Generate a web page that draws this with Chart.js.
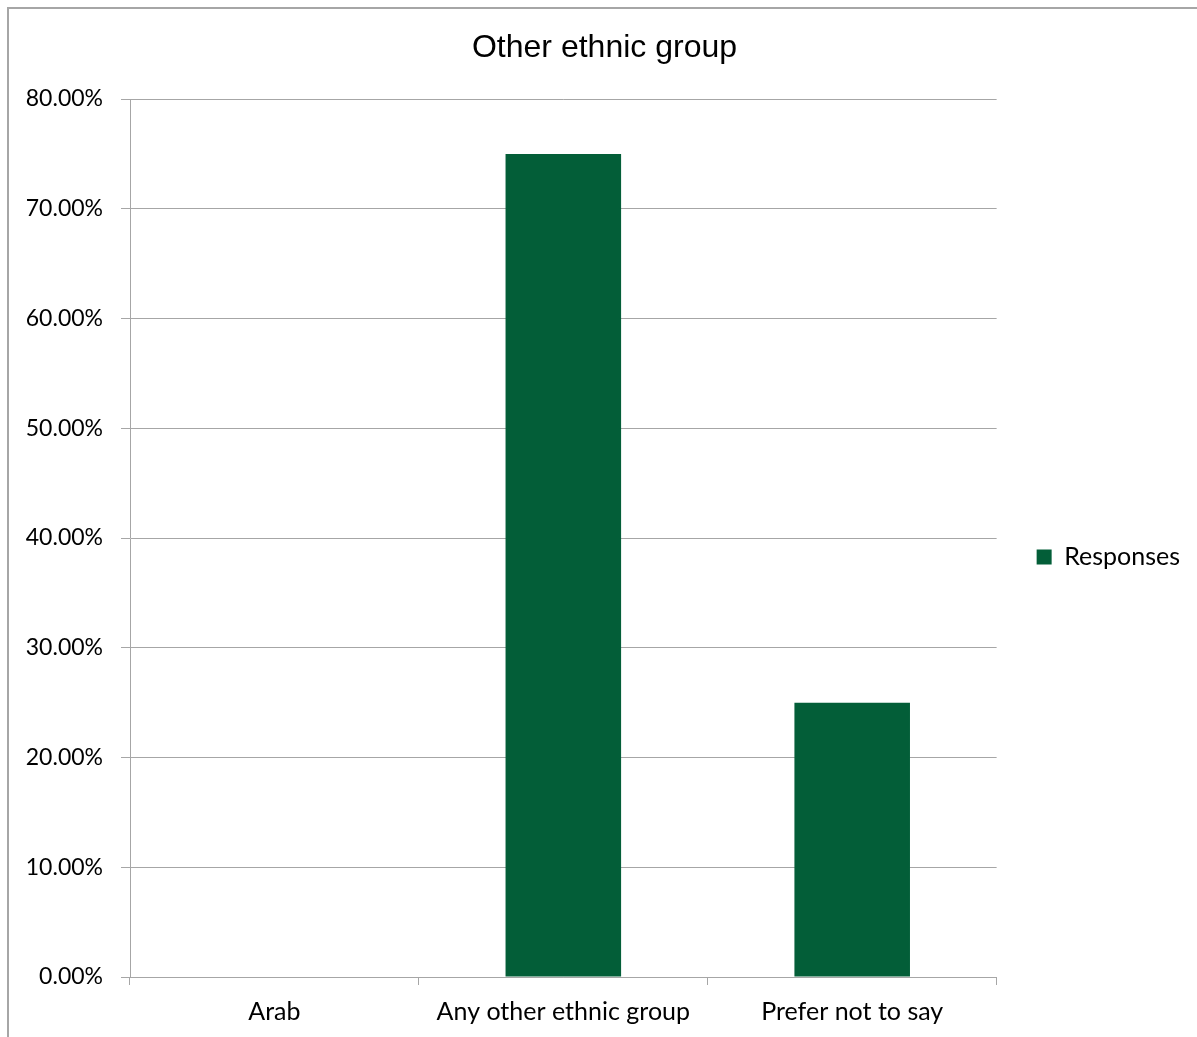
<!DOCTYPE html>
<html>
<head>
<meta charset="utf-8">
<script src="https://cdn.jsdelivr.net/npm/chart.js@4"></script>
<style>
  html, body { margin: 0; padding: 0; background: #fff; overflow: hidden; }
  #wrap { position: relative; width: 1197px; height: 1037px; }
  #frame { position: absolute; left: 7px; top: 7px; width: 1300px; height: 1200px;
           border: 2px solid #A6A6A6; box-sizing: border-box; pointer-events: none; }
  canvas { position: absolute; left: 0; top: 0; }
</style>
</head>
<body>
<div id="wrap">
  <div id="frame"></div>
  <canvas id="c" width="1197" height="1037"></canvas>
</div>
<script>
const chartTitle = 'Other ethnic group';
const categories = ['Arab', 'Any other ethnic group', 'Prefer not to say'];
const seriesName = 'Responses';
const responses = [0, 0.75, 0.25];
const yTicks = [0, 0.1, 0.2, 0.3, 0.4, 0.5, 0.6, 0.7, 0.8];

const barColor = '#035E38';
const gridColor = '#A6A6A6';
const labelFont = { family: 'Lato, "Open Sans", sans-serif', size: 25 };
const yTickFont = { family: 'Lato, "Open Sans", sans-serif', size: 23 };

const blockShift = {
  id: 'blockShift',
  afterLayout(chart) {
    const lg = chart.legend;
    if (lg) {
      const dy = 557 - (lg.top + lg.bottom) / 2;
      lg.top += dy; lg.bottom += dy;
      lg.left -= 3; lg.right -= 3;
    }
    const tb = chart.titleBlock;
    if (tb) {
      const dx = 604.5 - (tb.left + tb.right) / 2;
      tb.left += dx; tb.right += dx;
      tb.top += 1; tb.bottom += 1;
    }
  }
};

new Chart(document.getElementById('c'), {
  type: 'bar',
  data: {
    labels: categories,
    datasets: [{
      label: seriesName,
      data: responses,
      backgroundColor: barColor,
      borderWidth: 0,
      barPercentage: 0.4,
      categoryPercentage: 1.0
    }]
  },
  options: {
    responsive: false,
    animation: false,
    devicePixelRatio: 1,
    layout: { padding: { left: 0, right: 4, top: 10, bottom: 0 } },
    plugins: {
      title: {
        display: true,
        text: chartTitle,
        color: '#000',
        font: { family: '"Liberation Sans", Arial, sans-serif', size: 32, weight: 'normal' },
        padding: { top: 18, bottom: 32.6 }
      },
      legend: {
        display: true,
        position: 'right',
        fullSize: false,
        labels: {
          boxWidth: 15,
          boxHeight: 15,
          padding: 43,
          color: '#000',
          font: labelFont
        }
      },
      tooltip: { enabled: false }
    },
    scales: {
      x: {
        grid: { display: true, offset: true, drawOnChartArea: false, drawTicks: true, tickLength: 8, color: gridColor },
        border: { display: true, color: gridColor },
        ticks: { color: '#000', font: labelFont, padding: 12, maxRotation: 0 },
        afterFit(scale) { scale.height = 60; }
      },
      y: {
        min: 0,
        max: 0.8,
        afterBuildTicks(scale) { scale.ticks = yTicks.map(v => ({ value: v })); },
        grid: { color: gridColor, tickLength: 9, drawTicks: true },
        border: { display: true, color: gridColor },
        ticks: {
          color: '#000',
          font: yTickFont,
          padding: 18,
          callback: (v) => (v * 100).toFixed(2) + '%'
        },
        afterFit(scale) { scale.width = 130; }
      }
    }
  },
  plugins: [blockShift]
});
</script>
</body>
</html>
